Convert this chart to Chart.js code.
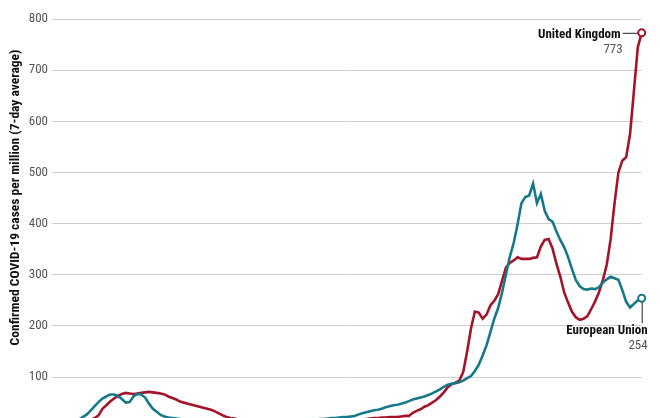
<!DOCTYPE html>
<html>
<head>
<meta charset="utf-8">
<script src="https://cdn.jsdelivr.net/npm/chart.js@4"></script>
<style>
  html, body { margin: 0; padding: 0; background: #fff; overflow: hidden; width: 660px; height: 418px; }
  #wrap { width: 660px; height: 440px; }
</style>
</head>
<body>
<div id="wrap"><canvas id="c" width="660" height="440"></canvas></div>
<script>
// Date categories: every 2 days starting 1 March 2020
const startDate = "2020-03-01";
const stepDays = 2;

// Confirmed COVID-19 cases per million (7-day average)
const euValues = [
  1, 2, 3, 5, 7, 10, 13, 17, 22, 27,
  35, 43, 51, 58, 62, 66, 66, 63, 57, 50,
  51, 62, 67, 66, 60, 48, 38, 32, 26, 23,
  21, 20, 19, 18, 17, 16, 15, 14, 13, 12,
  12, 11, 11, 10, 10, 10, 9, 9, 9, 9,
  9, 9, 9, 10, 10, 10, 11, 11, 11, 12,
  12, 13, 13, 14, 14, 15, 16, 16, 17, 18,
  18, 19, 20, 20, 21, 22, 22, 23, 24, 27,
  29, 31, 33, 35, 36, 38, 41, 43, 45, 46,
  48, 50, 53, 56, 58, 60, 62, 65, 68, 72,
  76, 81, 85, 87, 88, 90, 93, 98, 102, 112,
  124, 142, 162, 188, 214, 235, 265, 300, 335, 362,
  398, 440, 452, 455, 478, 440, 458, 425, 409, 404,
  385, 368, 354, 335, 312, 290, 278, 272, 271, 273,
  272, 276, 285, 291, 296, 293, 290, 270, 247, 236,
  243, 250, 254
];
const ukValues = [
  0, 0, 1, 1, 2, 3, 5, 7, 10, 13,
  16, 20, 25, 38, 45, 52, 58, 63, 67, 69,
  68, 67, 68, 69, 70, 71, 70, 69, 68, 66,
  62, 59, 56, 52, 50, 48, 46, 44, 42, 40,
  38, 36, 33, 29, 25, 22, 20, 19, 17, 16,
  15, 14, 13, 12, 11, 10, 10, 9, 9, 9,
  9, 9, 9, 10, 10, 10, 10, 11, 11, 11,
  12, 12, 12, 13, 13, 14, 14, 15, 16, 16,
  17, 18, 19, 20, 20, 21, 21, 22, 22, 22,
  23, 24, 24, 30, 34, 37, 42, 45, 50, 55,
  62, 70, 80, 86, 89, 93, 110, 150, 195, 228,
  226, 214, 222, 240, 249, 262, 288, 314, 323, 328,
  334, 331, 331, 331, 333, 334, 355, 368, 370, 352,
  322, 297, 266, 246, 228, 217, 212, 214, 219, 233,
  248, 266, 290, 320, 370, 440, 500, 523, 530, 575,
  660, 745, 773
];
const yTicks = [100, 200, 300, 400, 500, 600, 700, 800];
const seriesNames = ["United Kingdom", "European Union"];
const yTitle = "Confirmed COVID-19 cases per million (7-day average)";

const categories = euValues.map((_, i) => {
  const d = new Date(startDate + "T00:00:00Z");
  d.setUTCDate(d.getUTCDate() + i * stepDays);
  return d.toISOString().slice(0, 10);
});

const RED = "#a3142b";
const TEAL = "#16798b";
const FONT = "'Liberation Sans Narrow', 'Roboto Condensed', 'DejaVu Sans Condensed', sans-serif";

function endPoints(arr) { return arr.map((_, i) => i === arr.length - 1 ? 3.5 : 0); }

const labelPlugin = {
  id: 'endLabels',
  afterDraw(chart) {
    const ctx = chart.ctx;
    const xs = chart.scales.x, ys = chart.scales.y;
    const n = categories.length - 1;
    // Y-axis title
    ctx.save();
    ctx.translate(16, 197.5);
    ctx.rotate(-Math.PI / 2);
    ctx.font = "bold 13.5px " + FONT;
    ctx.fillStyle = "#111";
    ctx.textAlign = "center";
    ctx.textBaseline = "middle";
    ctx.fillText(yTitle, 0, 0);
    ctx.restore();

    // UK label
    const ukX = xs.getPixelForValue(n), ukY = ys.getPixelForValue(ukValues[n]);
    ctx.save();
    ctx.strokeStyle = "#222"; ctx.lineWidth = 1;
    ctx.beginPath(); ctx.moveTo(ukX - 19, ukY + 0.5); ctx.lineTo(ukX - 4, ukY + 0.5); ctx.stroke();
    ctx.textAlign = "right"; ctx.textBaseline = "middle";
    ctx.font = "bold 13px " + FONT; ctx.fillStyle = "#111";
    ctx.fillText(seriesNames[0], ukX - 21, ukY + 1.5);
    ctx.font = "13px " + FONT; ctx.fillStyle = "#555";
    ctx.fillText(String(ukValues[n]), ukX - 19, ukY + 16.5);
    ctx.restore();

    // EU label
    const euX = xs.getPixelForValue(n), euY = ys.getPixelForValue(euValues[n]);
    ctx.save();
    ctx.strokeStyle = "#222"; ctx.lineWidth = 1;
    ctx.beginPath(); ctx.moveTo(euX + 0.5, euY + 4); ctx.lineTo(euX + 0.5, euY + 25); ctx.stroke();
    ctx.textAlign = "right"; ctx.textBaseline = "middle";
    ctx.font = "bold 13px " + FONT; ctx.fillStyle = "#111";
    ctx.fillText(seriesNames[1], euX + 6, euY + 32);
    ctx.font = "13px " + FONT; ctx.fillStyle = "#555";
    ctx.fillText(String(euValues[n]), euX + 6, euY + 47);
    ctx.restore();
  }
};

new Chart(document.getElementById('c'), {
  type: 'line',
  data: {
    labels: categories,
    datasets: [
      {
        label: seriesNames[1], data: euValues, borderColor: TEAL, borderWidth: 2.6,
        pointRadius: endPoints(euValues), pointBackgroundColor: "#fff",
        pointBorderColor: TEAL, pointBorderWidth: 2, tension: 0
      },
      {
        label: seriesNames[0], data: ukValues, borderColor: RED, borderWidth: 2.6,
        pointRadius: endPoints(ukValues), pointBackgroundColor: "#fff",
        pointBorderColor: RED, pointBorderWidth: 2, tension: 0
      }
    ]
  },
  options: {
    responsive: false,
    animation: false,
    events: [],
    layout: { padding: { top: 19, right: 18.3, bottom: 9.5, left: 0 } },
    plugins: { legend: { display: false }, tooltip: { enabled: false } },
    scales: {
      x: { display: false, offset: false },
      y: {
        min: 0, max: 800,
        afterFit(scale) { scale.width = 52; },
        afterBuildTicks(scale) { scale.ticks = yTicks.map(v => ({ value: v })); },
        border: { display: false },
        grid: { color: "#cfcfcf", lineWidth: 1, drawTicks: false },
        ticks: { padding: 4, color: "#555", font: { family: FONT, size: 13 } }
      }
    }
  },
  plugins: [labelPlugin]
});
</script>
</body>
</html>
